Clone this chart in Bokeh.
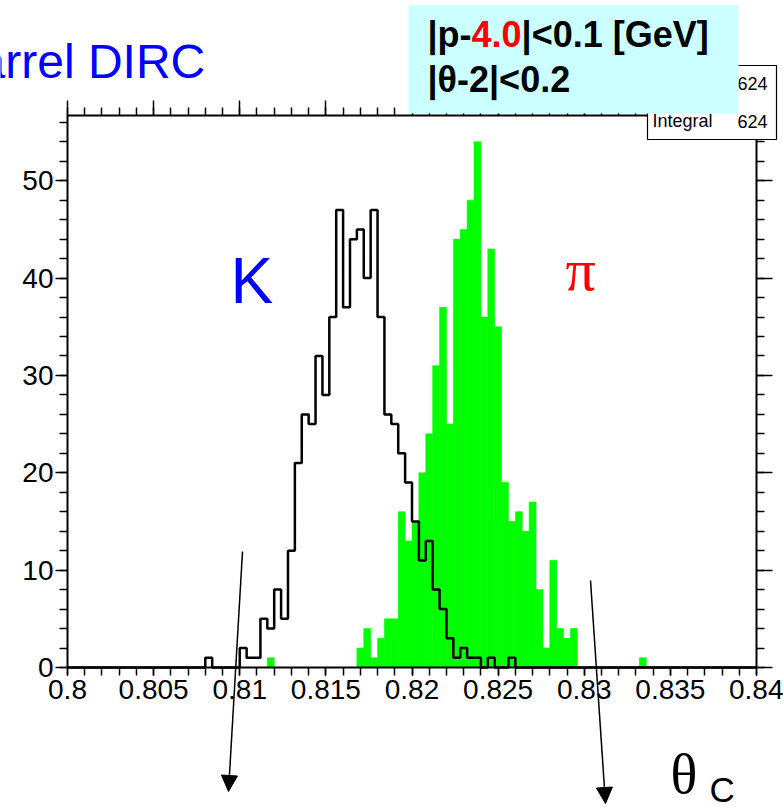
import numpy as np
from bokeh.plotting import figure
from bokeh.models import (FixedTicker, LinearAxis, Range1d, Label, BoxAnnotation,
                          Arrow, NormalHead)
from bokeh.embed import file_html
from bokeh.resources import INLINE

# ---------------- data ----------------
x_lo, x_hi, n_bins = 0.80, 0.84, 100

kaon_counts = [
    0, 0, 0, 0, 0, 0, 0, 0, 0, 0,
    0, 0, 0, 0, 0, 0, 0, 0, 0, 0,
    1, 0, 0, 0, 0, 2, 1, 1, 5, 4,
    8, 5, 12, 21, 26, 25, 32, 28, 36, 47,
    37, 44, 45, 40, 47, 36, 26, 25, 22, 19,
    15, 11, 13, 8, 6, 3, 1, 2, 1, 1,
    0, 1, 0, 0, 1, 0, 0, 0, 0, 0,
    0, 0, 0, 0, 0, 0, 0, 0, 0, 0,
    0, 0, 0, 0, 0, 0, 0, 0, 0, 0,
    0, 0, 0, 0, 0, 0, 0, 0, 0, 0,
]

pion_counts = [
    0, 0, 0, 0, 0, 0, 0, 0, 0, 0,
    0, 0, 0, 0, 0, 0, 0, 0, 0, 0,
    0, 0, 0, 0, 0, 0, 0, 0, 0, 1,
    0, 0, 0, 0, 0, 0, 0, 0, 0, 0,
    0, 0, 2, 4, 1, 3, 5, 5, 16, 13,
    15, 20, 24, 31, 37, 25, 44, 45, 48, 54,
    36, 43, 35, 19, 15, 16, 14, 17, 8, 2,
    11, 4, 3, 4, 0, 0, 0, 0, 0, 0,
    0, 0, 0, 1, 0, 0, 0, 0, 0, 0,
    0, 0, 0, 0, 0, 0, 0, 0, 0, 0,
]

x_ticks = [0.8, 0.805, 0.81, 0.815, 0.82, 0.825, 0.83, 0.835, 0.84]
x_tick_labels = ["0.8", "0.805", "0.81", "0.815", "0.82", "0.825", "0.83", "0.835", "0.84"]
y_ticks = [0, 10, 20, 30, 40, 50]
y_tick_labels = ["0", "10", "20", "30", "40", "50"]
y_max = 56.7

stats_entries = "624"
stats_integral = "624"

# ---------------- layout helpers ----------------
W, H = 783, 808
FL, FR, FT, FB = 67, 756, 115, 667   # pixel box of the histogram frame


def dx(px):
    return x_lo + (px - FL) * (x_hi - x_lo) / (FR - FL)


def dy(py):
    return (FB - py) * y_max / (FB - FT)


BL = 0.39  # baseline correction (fraction of font size)


def add_text(px, py, text, size, color="black", font="Liberation Sans",
             style="normal", align="left"):
    p.add_layout(Label(x=dx(px), y=dy(py - BL * size), text=text, text_align=align,
                       text_baseline="alphabetic", text_font=font,
                       text_font_size=f"{size}px", text_font_style=style,
                       text_color=color))


edges = np.linspace(x_lo, x_hi, n_bins + 1)
x_minor = [round(0.8 + 0.001 * i, 3) for i in range(41)]
y_minor = list(range(0, 57, 2))

p = figure(width=W, height=H, x_range=Range1d(dx(0), dx(W)), y_range=Range1d(dy(H), dy(0)),
           output_backend="svg", toolbar_location=None,
           min_border=0, min_border_left=0, min_border_right=0,
           min_border_top=0, min_border_bottom=0,
           x_axis_location=None, y_axis_location=None)
p.grid.visible = False
p.outline_line_color = None
p.background_fill_color = "white"
p.border_fill_color = "white"

# pion histogram (filled green)
p.quad(left=edges[:-1], right=edges[1:], bottom=0, top=pion_counts,
       fill_color="#00ff00", line_color="#00ff00", line_width=0.6)

# kaon histogram (black outline)
p.step(x=edges, y=list(kaon_counts) + [kaon_counts[-1]], mode="after",
       line_color="black", line_width=2.5)

font = "Liberation Sans"
common = dict(axis_line_width=2, axis_line_color="black",
              major_tick_line_width=1.5, minor_tick_line_width=1.5,
              major_tick_in=0, minor_tick_in=0)

xa = LinearAxis(ticker=FixedTicker(ticks=x_ticks, minor_ticks=x_minor),
                major_label_overrides=dict(zip(x_ticks, x_tick_labels)),
                fixed_location=0, bounds=(x_lo, x_hi),
                major_tick_out=8, minor_tick_out=8, major_label_standoff=4,
                major_label_text_font=font, major_label_text_font_size="28px",
                major_label_text_color="black", **common)
p.add_layout(xa, "below")
ya = LinearAxis(ticker=FixedTicker(ticks=y_ticks, minor_ticks=y_minor),
                major_label_overrides=dict(zip(y_ticks, y_tick_labels)),
                fixed_location=x_lo, bounds=(0, y_max),
                major_tick_out=12, minor_tick_out=8, major_label_standoff=2,
                major_label_text_font=font, major_label_text_font_size="28px",
                major_label_text_color="black", **common)
p.add_layout(ya, "left")

top_axis = LinearAxis(ticker=FixedTicker(ticks=x_ticks, minor_ticks=x_minor),
                      major_label_overrides={t: "" for t in x_ticks},
                      major_label_text_font_size="0px", major_label_standoff=0,
                      fixed_location=y_max, bounds=(x_lo, x_hi),
                      major_tick_out=15, minor_tick_out=8, **common)
p.add_layout(top_axis, "above")
right_axis = LinearAxis(ticker=FixedTicker(ticks=y_ticks, minor_ticks=y_minor),
                        major_label_overrides={t: "" for t in y_ticks},
                        major_label_text_font_size="0px", major_label_standoff=0,
                        fixed_location=x_hi, bounds=(0, y_max),
                        major_tick_out=16, minor_tick_out=8, **common)
p.add_layout(right_axis, "right")

# stats box (partly hidden)
p.add_layout(BoxAnnotation(left=dx(647), right=dx(776), top=dy(65), bottom=dy(139),
                           fill_color="white", fill_alpha=1.0,
                           line_color="black", line_width=1.2, line_alpha=1.0))
add_text(767, 90, stats_entries, 18, align="right")
add_text(652, 128, "Integral", 18)
add_text(767, 128, stats_integral, 18, align="right")

# cyan selection box
p.add_layout(BoxAnnotation(left=dx(408), right=dx(738), top=dy(5), bottom=dy(113),
                           fill_color="#ccffff", fill_alpha=1.0, line_color=None))
fs = 36
x0 = 427
w1 = (0.280 + 0.611 + 0.333) * fs
w2 = (0.556 + 0.278 + 0.556) * fs
add_text(x0, 48, "|p-", fs, style="bold")
add_text(x0 + w1, 48, "4.0", fs, color="red", style="bold")
add_text(x0 + w1 + w2, 48, "|<0.1 [GeV]", fs, style="bold")
add_text(x0, 93, "|\u03b8-2|<0.2", fs, style="bold")

# title (cut off at left edge as in the original slide)
add_text(-54, 80, "Barrel DIRC", 48, color="blue")

# particle labels
add_text(230, 305, "K", 64, color="blue")
add_text(565, 293, "\u03c0", 60, color="red", font="Liberation Serif")

# theta_C label
add_text(670, 795, "\u03b8", 56, font="Liberation Serif")
add_text(709, 803, "C", 35)

# arrows
for (xs, ys, xe, ye) in ((242, 551, 228, 791), (590, 580, 605, 803)):
    p.add_layout(Arrow(x_start=dx(xs), y_start=dy(ys), x_end=dx(xe), y_end=dy(ye),
                       line_color="black", line_width=1.5,
                       end=NormalHead(size=16, fill_color="black", line_color="black")))

open("out.html", "w").write(file_html(p, INLINE))
